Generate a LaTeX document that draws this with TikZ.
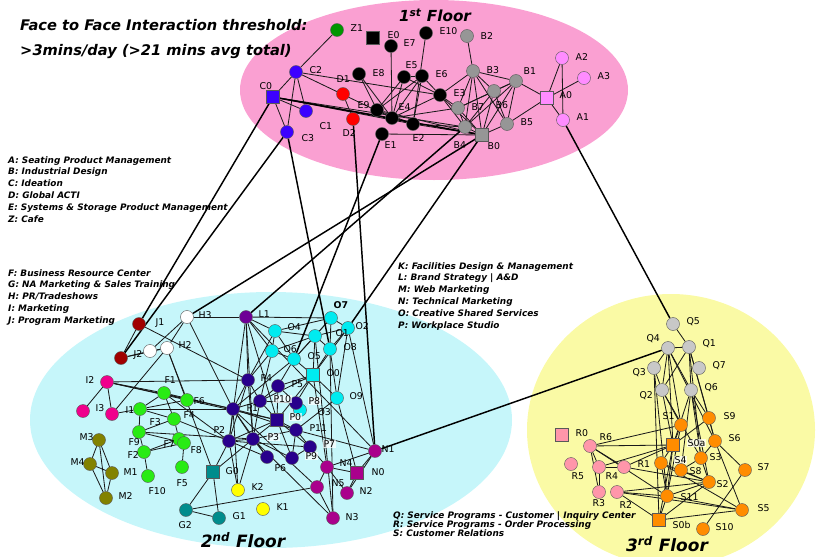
\documentclass[tikz,border=0pt]{standalone}
\usepackage{fontspec}
\setmainfont{DejaVu Sans}
\pgfdeclarelayer{bg}\pgfdeclarelayer{edges}\pgfsetlayers{bg,edges,main}
\definecolor{pinkbg}{RGB}{250,160,210}
\definecolor{cyanbg}{RGB}{198,246,250}
\definecolor{yellowbg}{RGB}{250,250,165}
\definecolor{cZ}{RGB}{0,150,0}
\definecolor{cC}{RGB}{60,0,255}
\definecolor{cB}{RGB}{150,150,150}
\definecolor{cA}{RGB}{255,140,255}
\definecolor{cJ}{RGB}{160,0,0}
\definecolor{cL}{RGB}{110,0,150}
\definecolor{cI}{RGB}{240,0,140}
\definecolor{cF}{RGB}{40,235,20}
\definecolor{cM}{RGB}{130,130,0}
\definecolor{cG}{RGB}{0,140,140}
\definecolor{cK}{RGB}{255,255,0}
\definecolor{cO}{RGB}{0,235,240}
\definecolor{cP}{RGB}{40,0,140}
\definecolor{cN}{RGB}{170,0,140}
\definecolor{cQ}{RGB}{200,200,200}
\definecolor{cR}{RGB}{255,150,170}
\definecolor{cS}{RGB}{255,140,0}
\tikzset{
 nd/.style={circle,draw=black!65,line width=0.35pt,minimum size=3.9mm,inner sep=0pt,fill=#1},
 sq/.style={rectangle,draw=black!65,line width=0.35pt,minimum size=3.8mm,inner sep=0pt,fill=#1},
 lbl/.style={font=\fontsize{8}{9}\selectfont,anchor=west,inner sep=0.3pt},
 wl/.style={lbl,fill=white,fill opacity=0.7,text opacity=1},
 e/.style={draw=black!90,line width=0.7pt},
 ee/.style={draw=black,line width=1.25pt},
 leg/.style={font=\fontsize{7.6}{10.2}\selectfont\bfseries\itshape,align=left,anchor=north west,inner sep=0pt},
 flr/.style={font=\fontsize{13}{15}\selectfont\bfseries\itshape,inner sep=0pt},
 flrb/.style={font=\fontsize{14.5}{16}\selectfont\bfseries\itshape,inner sep=0pt},
}
\newcommand\ND[7]{\node[#2] (#1) at (#3,#4) {}; \node[lbl] (#1-t) at (#5,#6) {#7};}
\begin{document}
\begin{tikzpicture}[x=0.03cm,y=-0.03cm]
\useasboundingbox (0,0) rectangle (818,556);
\begin{pgfonlayer}{bg}
\fill[pinkbg] (434,90) ellipse [x radius=194, y radius=90];
\fill[cyanbg] (271,420) ellipse [x radius=241, y radius=128];
\fill[yellowbg] (671,430) ellipse [x radius=144, y radius=136];
\end{pgfonlayer}
% titles
\node[anchor=west,font=\fontsize{12.5}{14}\selectfont\bfseries\itshape,inner sep=0pt] (t1) at (20,25) {Face to Face Interaction threshold:};
\node[anchor=west,font=\fontsize{12.5}{14}\selectfont\bfseries\itshape,inner sep=0pt] (t2) at (20,52) {>3mins/day (>21 mins avg total)};
\node[flr] (fl1) at (435,15) {1\textsuperscript{st} Floor};
\node[flrb] (fl2) at (243,540) {2\textsuperscript{nd} Floor};
\node[flrb] (fl3) at (667,544) {3\textsuperscript{rd} Floor};
\node[leg] (legA) at (8,156) {A: Seating Product Management\\B: Industrial Design\\C: Ideation\\D: Global ACTI\\E: Systems \& Storage Product Management\\Z: Cafe};
\node[leg] (legF) at (8,269) {F: Business Resource Center\\G: NA Marketing \& Sales Training\\H: PR/Tradeshows\\I: Marketing\\J: Program Marketing};
\node[leg] (legK) at (398,262) {K: Facilities Design \& Management\\L: Brand Strategy | A\&D\\M: Web Marketing\\N: Technical Marketing\\O: Creative Shared Services\\P: Workplace Studio};
\node[leg,font=\fontsize{7.6}{7.8}\selectfont\bfseries\itshape] (legQ) at (393,511) {Q: Service Programs - Customer | Inquiry Center\\R: Service Programs - Order Processing\\S: Customer Relations};
% ---------- floor 1
\ND{z1}{nd=cZ}{337}{30}{350}{28}{Z1}
\ND{e0}{sq=black}{373}{38}{387}{35}{E0}
\ND{e7}{nd=black}{391}{46}{403}{43}{E7}
\ND{e10}{nd=black}{426}{33}{439}{31}{E10}
\ND{b2}{nd=cB}{467}{36}{480}{36}{B2}
\ND{c2}{nd=cC}{296}{72}{309}{70}{C2}
\ND{c0}{sq=cC}{273}{97}{259}{86}{C0}
\ND{c1}{nd=cC}{306}{111}{319}{126}{C1}
\ND{c3}{nd=cC}{287}{132}{301}{138}{C3}
\ND{d1}{nd=red}{343}{94}{336}{79}{D1}
\ND{d2}{nd=red}{353}{119}{342}{133}{D2}
\ND{e8}{nd=black}{359}{74}{372}{73}{E8}
\ND{e5}{nd=black}{404}{77}{405}{65}{E5}
\ND{e6}{nd=black}{422}{76}{435}{74}{E6}
\ND{e3}{nd=black}{440}{95}{453}{93}{E3}
\ND{e9}{nd=black}{377}{110}{357}{105}{E9}
\ND{e4}{nd=black}{392}{118}{398}{107}{E4}
\ND{e2}{nd=black}{413}{124}{412}{138}{E2}
\ND{e1}{nd=black}{382}{134}{384}{145}{E1}
\ND{b3}{nd=cB}{473}{71}{486}{70}{B3}
\ND{b1}{nd=cB}{516}{81}{523}{71}{B1}
\ND{b6}{nd=cB}{494}{91}{495}{105}{B6}
\ND{b7}{nd=cB}{458}{108}{471}{107}{B7}
\ND{b5}{nd=cB}{507}{124}{520}{122}{B5}
\ND{b4}{nd=cB}{465}{127}{453}{145}{B4}
\ND{b0}{sq=cB}{482}{135}{487}{146}{B0}
\ND{a0}{sq=cA}{547}{98}{559}{95}{A0}
\ND{a2}{nd=cA}{562}{58}{575}{57}{A2}
\ND{a3}{nd=cA}{584}{78}{597}{76}{A3}
\ND{a1}{nd=cA}{563}{120}{576}{117}{A1}
% ---------- floor 2
\ND{j1}{nd=cJ}{139}{324}{155}{323}{J1}
\ND{j2}{nd=cJ}{121}{358}{133}{355}{J2}
\ND{h3}{nd=white}{187}{317}{198}{315}{H3}
\node[nd=white] (h1) at (150,351) {};
\ND{h2}{nd=white}{167}{348}{178}{345}{H2}
\ND{l1}{nd=cL}{246}{317}{258}{314}{L1}
\ND{i2}{nd=cI}{107}{382}{85}{380}{I2}
\ND{i3}{nd=cI}{83}{411}{95}{408}{I3}
\ND{i1}{nd=cI}{112}{414}{125}{410}{I1}
\ND{fa}{nd=cF}{140}{409}{149}{422}{F3}
\ND{f1}{nd=cF}{164}{393}{164}{380}{F1}
\ND{f6}{nd=cF}{187}{400}{193}{401}{F6}
\ND{f4}{nd=cF}{174}{419}{183}{415}{F4}
\ND{f9}{nd=cF}{139}{432}{128}{442}{F9}
\ND{f2}{nd=cF}{144}{452}{127}{455}{F2}
\ND{f7}{nd=cF}{179}{439}{163}{444}{F7}
\ND{f8}{nd=cF}{184}{443}{190}{450}{F8}
\ND{f5}{nd=cF}{182}{467}{176}{483}{F5}
\ND{f10}{nd=cF}{148}{476}{148}{491}{F10}
\ND{m3}{nd=cM}{99}{440}{79}{437}{M3}
\ND{m4}{nd=cM}{90}{464}{70}{462}{M4}
\ND{m1}{nd=cM}{112}{473}{123}{472}{M1}
\ND{m2}{nd=cM}{106}{498}{118}{496}{M2}
\ND{g0}{sq=cG}{213}{472}{225}{471}{G0}
\ND{g2}{nd=cG}{186}{510}{178}{525}{G2}
\ND{g1}{nd=cG}{219}{518}{232}{516}{G1}
\ND{k2}{nd=cK}{238}{490}{251}{487}{K2}
\ND{k1}{nd=cK}{263}{509}{276}{507}{K1}
\node[nd=cO] (o7) at (331,318) {};
\node[lbl,font=\fontsize{8}{9}\selectfont\bfseries] (o7-t) at (333,305) {O7};
\ND{o2}{nd=cO}{348}{328}{355}{326}{O2}
\ND{o4}{nd=cO}{275}{331}{287}{327}{O4}
\ND{o1}{nd=cO}{315}{336}{335}{333}{O1}
\ND{o6}{nd=cO}{272}{351}{283}{349}{O6}
\ND{o5}{nd=cO}{294}{359}{307}{356}{O5}
\ND{o8}{nd=cO}{330}{349}{343}{347}{O8}
\ND{o0}{sq=cO}{313}{375}{326}{373}{O0}
\ND{o9}{nd=cO}{337}{398}{349}{396}{O9}
\ND{o3}{nd=cO}{300}{410}{317}{412}{O3}
\ND{p4}{nd=cP}{248}{380}{260}{378}{P4}
\ND{p5}{nd=cP}{278}{386}{291}{384}{P5}
\node[nd=cP] (p8) at (296,403) {};
\node[wl] (p8-t) at (308,401) {P8};
\node[nd=cP] (p10) at (260,401) {};
\node[wl] (p10-t) at (273,399) {P10};
\ND{p1}{nd=cP}{233}{409}{246}{408}{P1}
\node[sq=cP] (p0) at (277,420) {};
\node[wl] (p0-t) at (289,417) {P0};
\ND{p11}{nd=cP}{296}{430}{309}{428}{P11}
\ND{p2}{nd=cP}{229}{441}{213}{430}{P2}
\node[nd=cP] (p3) at (253,439) {};
\node[wl] (p3-t) at (267,437) {P3};
\node[nd=cP] (p9) at (310,447) {};
\node[wl] (p9-t) at (305,456) {P9};
\node[wl] (p7-t) at (323,444) {P7};
\node[nd=cP] (p6a) at (267,457) {};
\ND{p6}{nd=cP}{292}{458}{274}{468}{P6}
\ND{n1}{nd=cN}{375}{451}{381}{449}{N1}
\ND{n4}{nd=cN}{327}{467}{339}{463}{N4}
\ND{n0}{sq=cN}{357}{473}{371}{472}{N0}
\ND{n5}{nd=cN}{317}{487}{331}{483}{N5}
\ND{n2}{nd=cN}{347}{493}{359}{491}{N2}
\ND{n3}{nd=cN}{333}{518}{345}{517}{N3}
% ---------- floor 3
\ND{q5}{nd=cQ}{673}{324}{686}{322}{Q5}
\ND{q4}{nd=cQ}{668}{348}{646}{339}{Q4}
\ND{q1}{nd=cQ}{689}{347}{702}{344}{Q1}
\ND{q7}{nd=cQ}{699}{368}{712}{366}{Q7}
\ND{q3}{nd=cQ}{654}{368}{632}{373}{Q3}
\ND{q2}{nd=cQ}{662}{390}{639}{396}{Q2}
\ND{q6}{nd=cQ}{691}{390}{704}{388}{Q6}
\ND{s1}{nd=cS}{681}{425}{662}{416}{S1}
\ND{s9}{nd=cS}{709}{418}{723}{416}{S9}
\node[sq=cS] (s0a) at (673,445) {};
\node[wl] (s0a-t) at (687,443) {S0a};
\ND{s6}{nd=cS}{715}{441}{728}{438}{S6}
\ND{s3}{nd=cS}{701}{458}{709}{457}{S3}
\node[nd=cS] (s4) at (661,463) {};
\node[wl] (s4-t) at (674,460) {S4};
\ND{s8}{nd=cS}{681}{470}{689}{471}{S8}
\ND{s7}{nd=cS}{745}{470}{757}{467}{S7}
\ND{s2}{nd=cS}{709}{482}{716}{484}{S2}
\ND{s11}{nd=cS}{667}{496}{680}{497}{S11}
\ND{s5}{nd=cS}{742}{510}{757}{508}{S5}
\ND{s0b}{sq=cS}{659}{520}{672}{525}{S0b}
\ND{s10}{nd=cS}{703}{529}{715}{527}{S10}
\ND{r0}{sq=cR}{562}{435}{575}{433}{R0}
\ND{r6}{nd=cR}{590}{446}{599}{437}{R6}
\ND{r5}{nd=cR}{571}{464}{571}{476}{R5}
\ND{r4}{nd=cR}{599}{467}{605}{476}{R4}
\ND{r1}{nd=cR}{624}{467}{637}{464}{R1}
\ND{r3}{nd=cR}{599}{492}{592}{503}{R3}
\ND{r2}{nd=cR}{617}{492}{619}{505}{R2}
% ---------- edges
\begin{pgfonlayer}{edges}
\foreach \a/\b in {z1/c2,c2/c0,c2/c1,c2/c3,c2/e4,c2/e3,c0/c1,c0/c3,c0/e2,c0/e4,c0/b4,d1/d2,e8/e4,e8/e9,e7/e4,e10/e2,e5/e9,e5/e4,e5/e6,e5/e3,e6/e3,e6/e4,e6/e2,e6/e9,e3/e4,e3/b7,e3/b3,e3/b4,e3/b0,e9/e4,e9/e2,e9/b0,e4/e2,e4/b7,e2/b4,e2/b0,e1/b0,b2/b3,b3/b1,b3/b6,b3/b7,b3/b5,b3/b4,b3/b0,b1/b6,b1/b7,b1/b5,b1/b4,b1/b0,b1/a0,b6/b0,b6/b5,b6/b7,b6/b4,b7/b0,b7/b4,b5/b0,b5/a0,b4/b0,a0/a2,a0/a3,a0/a1,a2/a1,
 j1/j2,j1/p4,j2/h2,j2/h1,h3/h1,h3/h2,h1/h2,h2/f6,h2/g0,h3/p1,h3/l1,i2/i3,i2/i1,i2/f1,i2/p1,i2/f6,i2/p4,i1/h2,fa/f1,fa/f6,fa/f9,fa/i1,fa/p1,fa/f4,f1/f6,f1/f4,f1/p1,f1/p2,f4/f9,f4/f7,f4/p2,f9/f2,f9/f8,f9/p3,f2/f7,f2/f10,f2/f8,f8/f5,f7/f8,f6/p0,m3/m4,m3/m1,m3/m2,m4/m1,m4/m2,m1/m2,g0/g2,g0/g1,g2/g1,g2/n5,g0/p3,g0/p2,k2/p1,k2/p3,k2/p2,l1/o4,l1/o6,l1/p4,l1/p2,l1/p0,l1/o7,l1/p3,l1/n1,
 o7/o1,o7/o2,o7/o4,o7/o8,o7/o5,o2/o1,o2/o8,o2/n1,o2/o9,o2/o0,o4/o1,o4/o6,o4/o5,o1/o5,o1/o8,o1/o0,o1/o6,o6/o5,o6/p4,o6/p10,o5/o0,o5/p5,o8/o0,o8/o9,o8/n3,o0/p8,o0/p10,o0/p0,o0/p5,o0/n4,o0/o9,o9/n0,o9/p11,o5/p1,o4/p4,
 p4/p1,p4/p10,p4/p3,p4/p2,p5/p10,p5/p8,p5/p0,p10/p1,p10/p0,p10/p8,p10/p3,p1/p2,p1/p3,p1/p0,p1/p6a,p0/p3,p0/p11,p0/p6,p0/p9,p0/p2,p2/p3,p2/p6a,p3/p6a,p3/p6,p3/p11,p11/p9,p11/n1,p11/p6,p9/n4,p9/p6,p2/p9,p1/p11,p8/o3,
 n1/n4,n1/n0,n1/n2,n4/n0,n5/n3,n5/n4,n2/n0,n4/n2,n3/p3,n5/p1,o1/n3,
 q5/q1,q4/q1,q4/q3,q4/q2,q4/q6,q4/s1,q4/s0a,q4/s6,q1/q6,q1/s9,q1/s6,q1/s3,q1/q2,q3/q2,q3/s0b,q3/s11,q2/s1,q2/s0a,q2/s3,q6/s0a,q6/s8,q6/s3,q6/s9,q6/s2,
 s1/s0a,s1/s11,s1/r6,s0a/r6,s0a/r4,s0a/s11,s0a/s0b,s0a/s9,s0a/r1,s0a/s4,s9/s6,s6/s3,s6/s7,s6/s5,s3/s2,s3/s8,s4/s11,s4/s2,s4/s5,s8/s2,s7/s10,s2/s11,s2/s0b,s11/r6,s11/r2,s11/s0b,s11/s5,s0b/r2,s0b/s5,s5/r2,r6/r4,r6/r3,r6/r1,r4/r1,r4/r3,r1/s2,r2/s2}
 \draw[e] (\a) -- (\b);
\foreach \a/\b in {c0/b0,c0/j1,c3/j2,c3/o8,e1/o5,d2/n1,b0/h3,b4/l1,b0/o2,a1/q5,q4/n1}
 \draw[ee] (\a) -- (\b);
\end{pgfonlayer}
\end{tikzpicture}
\end{document}
